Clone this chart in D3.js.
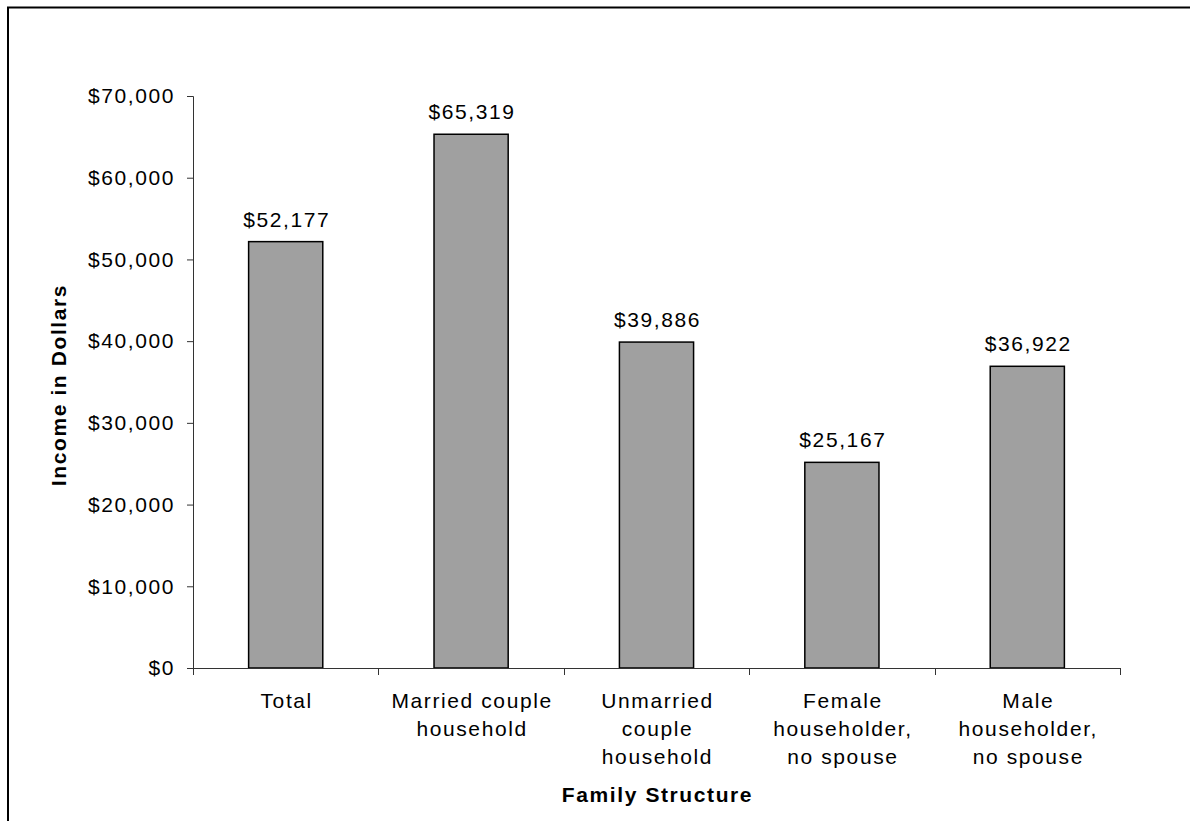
<!DOCTYPE html>
<html lang="en">
<head>
<meta charset="UTF-8">
<title>Income by Family Structure</title>
<script src="https://d3js.org/d3.v7.min.js"></script>
<style>
  body { margin: 0; background: #fff; }
  svg { display: block; }
  text { font-family: "Liberation Sans", Arial, sans-serif; fill: #000; }
</style>
</head>
<body>
<svg id="chart"></svg>
<script>
const width = 1190, height = 821;

// data
const categories = ["Total", "Married couple household", "Unmarried couple household",
  "Female householder, no spouse", "Male householder, no spouse"];
const labelLines = [["Total"], ["Married couple", "household"], ["Unmarried", "couple", "household"],
  ["Female", "householder,", "no spouse"], ["Male", "householder,", "no spouse"]];
const incomes = [52177, 65319, 39886, 25167, 36922];
const yTicks = [0, 10000, 20000, 30000, 40000, 50000, 60000, 70000];

// plot area edges
const plotL = 193, plotR = 1120, plotT = 96, plotB = 668;
const fs = 21, ls = "1.6px";
const fmt = d => "$" + d3.format(",")(d);

const svg = d3.select("#chart").attr("width", width).attr("height", height);

// outer frame (right and bottom edges run off the picture)
svg.append("rect")
  .attr("x", 8).attr("y", 7.5).attr("width", 1300).attr("height", 1000)
  .attr("fill", "none").attr("stroke", "#000").attr("stroke-width", 2);

const x = d3.scaleBand().domain(categories).range([plotL, plotR])
  .paddingInner(0.6).paddingOuter(0.3);
const y = d3.scaleLinear().domain([0, 70000]).range([plotB, plotT]);

// y axis
const yAxis = svg.append("g")
  .attr("transform", `translate(${plotL},0)`)
  .call(d3.axisLeft(y).tickValues(yTicks).tickFormat(fmt).tickSize(6).tickPadding(12));
yAxis.select(".domain").attr("stroke", "#333");
yAxis.selectAll(".tick line").attr("stroke", "#333");
yAxis.selectAll(".tick text")
  .attr("font-size", fs).attr("letter-spacing", ls)
  .style("font-family", "'Liberation Sans', Arial, sans-serif").attr("fill", "#000");

// bars
svg.selectAll("rect.bar")
  .data(categories)
  .enter().append("rect")
  .attr("class", "bar")
  .attr("x", d => x(d))
  .attr("y", (d, i) => y(incomes[i]))
  .attr("width", x.bandwidth())
  .attr("height", (d, i) => y(0) - y(incomes[i]))
  .attr("fill", "#a0a0a0")
  .attr("stroke", "#000")
  .attr("stroke-width", 1.5);

// x axis with ticks between categories
svg.append("line")
  .attr("x1", plotL).attr("x2", plotR).attr("y1", plotB + 0.5).attr("y2", plotB + 0.5)
  .attr("stroke", "#333");
d3.range(categories.length + 1).forEach(i => {
  const tx = Math.round(plotL + i * x.step()) + 0.5;
  svg.append("line")
    .attr("x1", tx).attr("x2", tx).attr("y1", plotB).attr("y2", plotB + 7)
    .attr("stroke", "#333");
});

// value labels
svg.selectAll("text.val")
  .data(categories)
  .enter().append("text")
  .attr("class", "val")
  .attr("x", d => x(d) + x.bandwidth() / 2 + 1)
  .attr("y", (d, i) => y(incomes[i]) - 15)
  .attr("text-anchor", "middle")
  .attr("font-size", fs)
  .attr("letter-spacing", ls)
  .text((d, i) => fmt(incomes[i]));

// category labels
categories.forEach((c, i) => {
  const cx = x(c) + x.bandwidth() / 2 + 1;
  const t = svg.append("text")
    .attr("x", cx)
    .attr("y", plotB + 40)
    .attr("text-anchor", "middle")
    .attr("font-size", fs)
    .attr("letter-spacing", ls);
  labelLines[i].forEach((ln, j) => {
    t.append("tspan").attr("x", cx)
      .attr("dy", j === 0 ? 0 : 28).text(ln);
  });
});

// axis titles
svg.append("text")
  .attr("x", (plotL + plotR) / 2 + 1)
  .attr("y", 802)
  .attr("text-anchor", "middle")
  .attr("font-size", fs)
  .attr("font-weight", "bold")
  .attr("letter-spacing", ls)
  .text("Family Structure");

svg.append("text")
  .attr("transform", "translate(66,385) rotate(-90)")
  .attr("text-anchor", "middle")
  .attr("font-size", fs)
  .attr("font-weight", "bold")
  .attr("letter-spacing", ls)
  .text("Income in Dollars");
</script>
</body>
</html>
